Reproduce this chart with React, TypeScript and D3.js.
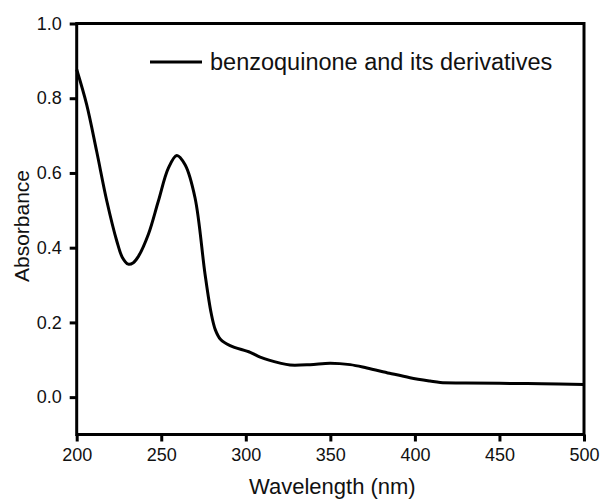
import React, { useEffect, useRef } from "react";
import * as d3 from "d3";

const wavelengths = [200, 205.9, 211.8, 217.8, 223.7, 227, 230.5, 233.5, 236.4, 242.4, 248.3, 254.2, 259.2, 264.1, 270, 275.9, 279.5, 282, 285, 290.7, 302.6, 308.5, 320.3, 326.2, 338, 349.9, 361.7, 371.6, 385, 397.1, 408.9, 415, 430, 450, 475, 500];
const absorbance = [0.877, 0.783, 0.658, 0.525, 0.418, 0.374, 0.356, 0.36, 0.376, 0.436, 0.525, 0.613, 0.647, 0.622, 0.533, 0.329, 0.225, 0.18, 0.155, 0.138, 0.12, 0.107, 0.091, 0.086, 0.087, 0.091, 0.087, 0.078, 0.064, 0.052, 0.043, 0.039, 0.038, 0.037, 0.036, 0.034];
const xTicks = [200, 250, 300, 350, 400, 450, 500];
const yTicks = [0.0, 0.2, 0.4, 0.6, 0.8, 1.0];
const seriesName = "benzoquinone and its derivatives";
const xTitle = "Wavelength (nm)";
const yTitle = "Absorbance";

export default function App() {
  const ref = useRef<SVGSVGElement>(null);
  useEffect(() => {
    document.body.style.margin = "0";
    const svg = d3.select(ref.current);
    svg.selectAll("*").remove();
    const left = 76.7, right = 584, top = 23.5, bottom = 434.5;
    const x = d3.scaleLinear().domain([200, 500]).range([left, right]);
    const y = d3.scaleLinear().domain([-0.1, 1.0]).range([bottom, top]);
    const font = "Arial, 'Liberation Sans', sans-serif";

    const data = wavelengths.map((w, i) => [w, absorbance[i]] as [number, number]);
    const line = d3.line<[number, number]>().x(d => x(d[0])).y(d => y(d[1])).curve(d3.curveCatmullRom.alpha(0.5));
    svg.append("path").attr("d", line(data)).attr("fill", "none").attr("stroke", "#000").attr("stroke-width", 3).attr("stroke-linejoin", "round");

    // frame
    svg.append("rect").attr("x", left).attr("y", top).attr("width", right - left).attr("height", bottom - top)
      .attr("fill", "none").attr("stroke", "#000").attr("stroke-width", 3);

    const xAxis = d3.axisBottom(x).tickValues(xTicks).tickSize(7).tickSizeOuter(0).tickPadding(7).tickFormat(d3.format("d"));
    const gx = svg.append("g").attr("transform", `translate(0,${bottom})`).call(xAxis);
    gx.select(".domain").remove();
    gx.selectAll("line").attr("stroke", "#000").attr("stroke-width", 3);
    gx.selectAll("text").attr("font-family", font).attr("font-size", 18).attr("fill", "#111");

    const yAxis = d3.axisLeft(y).tickValues(yTicks).tickSize(7).tickSizeOuter(0).tickPadding(8).tickFormat(d3.format(".1f"));
    const gy = svg.append("g").attr("transform", `translate(${left},0)`).call(yAxis);
    gy.select(".domain").remove();
    gy.selectAll("line").attr("stroke", "#000").attr("stroke-width", 3);
    gy.selectAll("text").attr("font-family", font).attr("font-size", 18).attr("fill", "#111");

    svg.append("text").attr("x", (left + right) / 2 + 2).attr("y", 494).attr("text-anchor", "middle")
      .attr("font-family", font).attr("font-size", 22).attr("fill", "#111").text(xTitle);
    svg.append("text").attr("transform", `translate(29,226) rotate(-90)`).attr("text-anchor", "middle")
      .attr("font-family", font).attr("font-size", 21).attr("fill", "#111").text(yTitle);

    // legend
    svg.append("line").attr("x1", 150).attr("x2", 202).attr("y1", 62).attr("y2", 62).attr("stroke", "#000").attr("stroke-width", 3);
    svg.append("text").attr("x", 210).attr("y", 70).attr("font-family", font).attr("font-size", 23.5).attr("fill", "#111").text(seriesName);
  }, []);
  return <svg ref={ref} width={600} height={501} style={{ display: "block", background: "#fff" }} />;
}
